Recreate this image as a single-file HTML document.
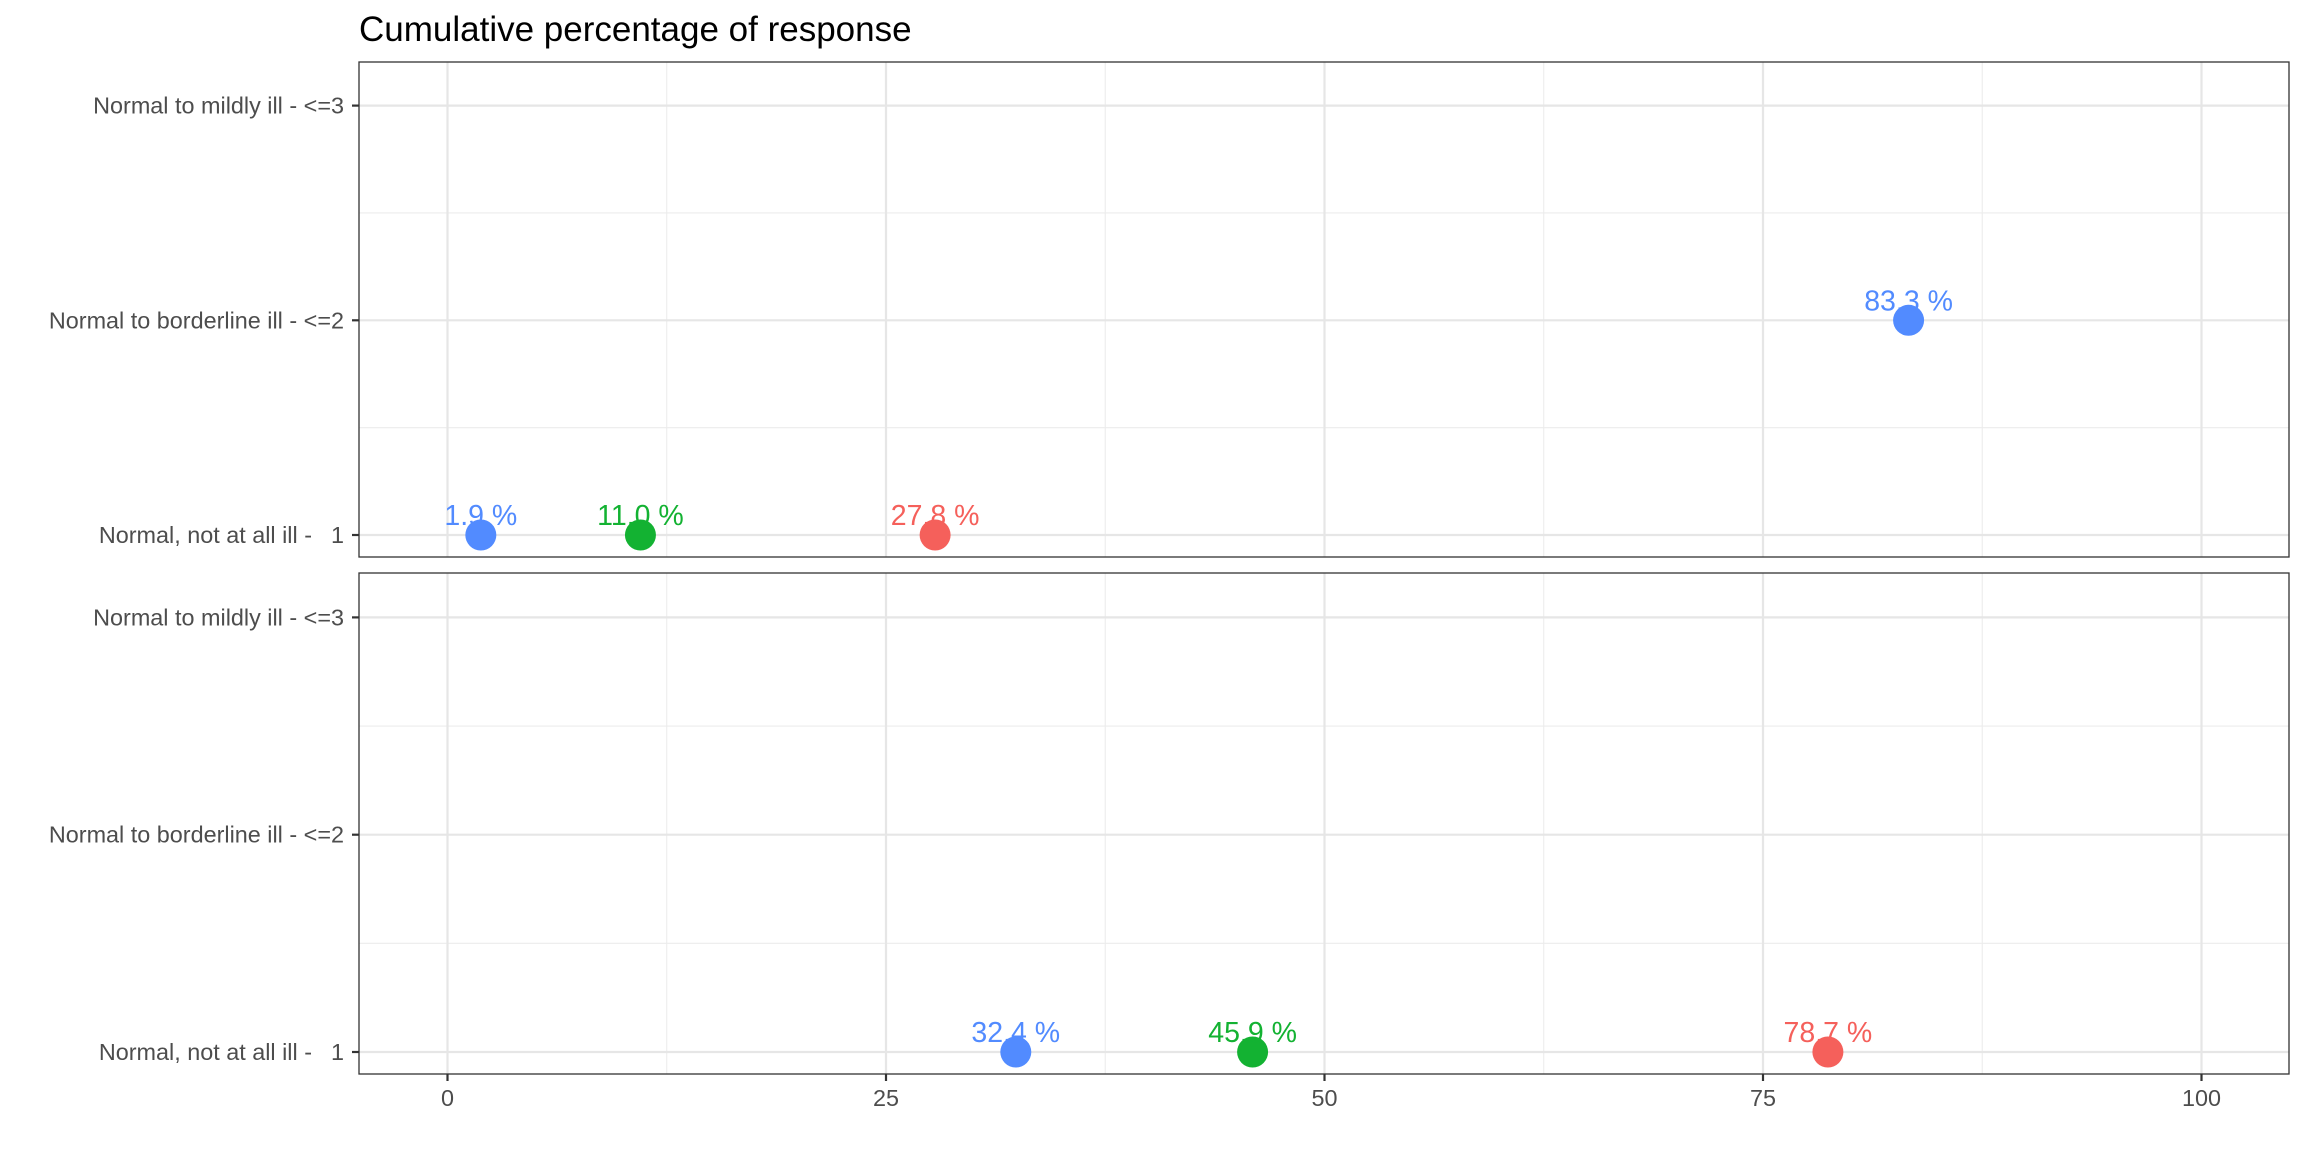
<!DOCTYPE html>
<html><head><meta charset="utf-8">
<style>
html,body{margin:0;padding:0;background:#fff;}
svg{display:block;font-family:"Liberation Sans",Arial,sans-serif;}
</style></head>
<body>
<svg id="chart" width="2304" height="1152" viewBox="0 0 2304 1152" xmlns="http://www.w3.org/2000/svg">
<text x="359" y="41" font-size="35" fill="#000">Cumulative percentage of response</text>
<g id="plot"></g>
</svg>
<script>
// Data
const levelLabels = ["Normal, not at all ill -", "Normal to borderline ill - <=2", "Normal to mildly ill - <=3"];
const levelCodes = ["1", "", ""];
const xTicks = [0, 25, 50, 75, 100];
const topValues = [1.9, 11.0, 27.8, 83.3];
const topLevels = [1, 1, 1, 2];
const topSeries = ["blue", "green", "red", "blue"];
const bottomValues = [32.4, 45.9, 78.7];
const bottomLevels = [1, 1, 1];
const bottomSeries = ["blue", "green", "red"];

const colors = {red: "#F5605B", green: "#13B232", blue: "#528BFF"};
const NS = "http://www.w3.org/2000/svg";
const root = document.getElementById('plot');
const X0 = 447.5, XU = 17.54;
const xs = v => X0 + v * XU;
const panelL = 359, panelR = 2289;
const LABEL_FS = 23.4;
const panels = [
  {top: 62, bottom: 557, y1: 535, y3: 105.6, vals: topValues, lv: topLevels, ser: topSeries, name: "top-panel"},
  {top: 573, bottom: 1074, y1: 1052, y3: 617.4, vals: bottomValues, lv: bottomLevels, ser: bottomSeries, name: "bottom-panel"}
];
function mk(tag, attrs, parent) {
  const e = document.createElementNS(NS, tag);
  for (const k in attrs) e.setAttribute(k, attrs[k]);
  (parent || root).appendChild(e);
  return e;
}
panels.forEach((p, pi) => {
  const ys = l => p.y1 + (l - 1) * (p.y3 - p.y1) / 2;
  const g = mk('g', {});
  
  
  for (let i = 0; i < xTicks.length - 1; i++) {
    const v = (xTicks[i] + xTicks[i + 1]) / 2;
    const l = mk('line', {x1: xs(v), x2: xs(v), y1: p.top, y2: p.bottom, stroke: '#ececec', 'stroke-width': 1.1}, g);
    
    
  }
  [1.5, 2.5].forEach(v => {
    const l = mk('line', {x1: panelL, x2: panelR, y1: ys(v), y2: ys(v), stroke: '#ececec', 'stroke-width': 1.1}, g);
    
    
  });
  xTicks.forEach(v => {
    const l = mk('line', {x1: xs(v), x2: xs(v), y1: p.top, y2: p.bottom, stroke: '#e6e6e6', 'stroke-width': 2.2}, g);
    
    
  });
  levelLabels.forEach((lab, i) => {
    const y = ys(i + 1);
    const l = mk('line', {x1: panelL, x2: panelR, y1: y, y2: y, stroke: '#e6e6e6', 'stroke-width': 2.2}, g);
    
    
    const t = mk('line', {x1: panelL - 7, x2: panelL, y1: y, y2: y, stroke: '#333', 'stroke-width': 2.2}, g);
    
    
    const txt = mk('text', {x: levelCodes[i] ? 312 : 344, y: y + 8, 'font-size': LABEL_FS, fill: '#4d4d4d', 'text-anchor': 'end'}, g);
    txt.textContent = lab;
    
    
    if (levelCodes[i]) {
      const c = mk('text', {x: 344, y: y + 8, 'font-size': LABEL_FS, fill: '#4d4d4d', 'text-anchor': 'end'}, g);
      c.textContent = levelCodes[i];
      
      
    }
  });
  p.vals.forEach((v, i) => {
    const cx = xs(v), cy = ys(p.lv[i]);
    const c = mk('circle', {cx: cx, cy: cy, r: 15.5, fill: colors[p.ser[i]]}, g);
    
    
    const t = mk('text', {x: cx, y: cy - 10, 'font-size': 28.5, fill: colors[p.ser[i]], 'text-anchor': 'middle'}, g);
    t.textContent = v.toFixed(1) + ' %';
    
    
  });
  const b = mk('rect', {x: panelL, y: p.top, width: panelR - panelL, height: p.bottom - p.top, fill: 'none', stroke: '#333', 'stroke-width': 1.3}, g);
  
  
  if (pi === 1) {
    xTicks.forEach(v => {
      const t = mk('line', {x1: xs(v), x2: xs(v), y1: p.bottom, y2: p.bottom + 7, stroke: '#333', 'stroke-width': 2.2}, g);
      
      
      const l = mk('text', {x: xs(v), y: 1106, 'font-size': LABEL_FS, fill: '#4d4d4d', 'text-anchor': 'middle'}, g);
      l.textContent = v;
      
      
    });
  }
});
</script>
</body></html>
